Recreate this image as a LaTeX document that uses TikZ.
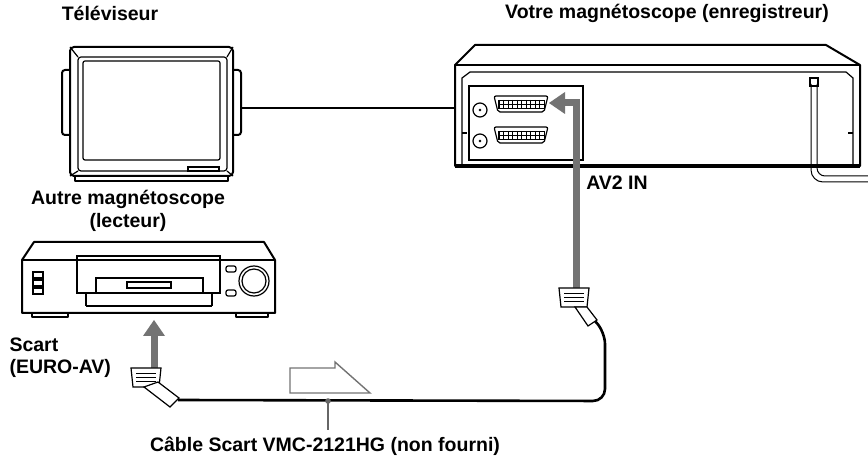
\documentclass[tikz,border=0pt]{standalone}
\usepackage{fontspec}
\setmainfont{Liberation Sans}
\begin{document}
\begin{tikzpicture}[x=1pt,y=-1pt,
  lbl/.style={font=\bfseries\fontsize{19.5}{22}\selectfont},
  dev/.style={draw=black,line width=2pt,fill=white,line join=round},
  thin/.style={draw=black,line width=1.2pt},
  garrow/.style={draw=black!55,line width=7pt},
  cable/.style={draw=black,line width=2.6pt}]
\useasboundingbox (0,0) rectangle (868,462);
% labels
\node[lbl] (ltv) at (110,13) {Téléviseur};
\node[lbl] (lrec) at (667,13) {Votre magnétoscope (enregistreur)};
\node[lbl] (lother) at (128,199) {Autre magnétoscope};
\node[lbl] (llect) at (128,222) {(lecteur)};
\node[lbl,anchor=west] (lscart) at (6,345) {Scart};
\node[lbl,anchor=west] (leuro) at (6,368) {(EURO-AV)};
\node[lbl] (lav) at (617,183) {AV2 IN};
\node[lbl] (lcable) at (325,446) {Câble Scart VMC-2121HG (non fourni)};
% TV
\draw[dev,rounded corners=3pt] (62,70) rectangle (72,135);
\draw[dev,rounded corners=3pt] (231,70) rectangle (241,135);
\draw[dev] (75,172) rectangle (228,181);
\draw[dev,rounded corners=4pt] (70,47) rectangle (233,176);
\draw[thin,rounded corners=3pt] (78,57) rectangle (227,171);
\draw[thin,rounded corners=2pt] (83,61) rectangle (220,160);
\draw[thin] (70,47)--(78,57) (233,47)--(227,57) (70,176)--(78,171) (233,176)--(227,171);
\draw[thin] (188,167) rectangle (219,171);
\coordinate (tvr) at (241,108);
% recorder
\draw[dev] (455,65)--(475,45)--(826,45)--(860,65)--(860,166)--(455,166)--cycle;
\draw[thin] (455,65)--(860,65);
\draw[thin] (462,166)--(462,78)--(470,72)--(846,72)--(853,78)--(853,166);
\draw[black,line width=3.5pt] (455,166)--(860,166);
\draw[thin] (469,160) rectangle (583,86);
\draw[thin] (462,133)--(467,133) (848,133)--(853,133);
\coordinate (recl) at (456,108);
\foreach \yy in {104,135}{
  \draw[thin,rounded corners=2pt] (494,\yy-8)--(548,\yy-8)--(544,\yy+8)--(498,\yy+8)--cycle;
  \draw[line width=0.5pt] (498,\yy-4) rectangle (544,\yy+4) (498,\yy)--(544,\yy);
  \foreach \k in {0,...,9}{\draw[line width=0.4pt] (499+4.5*\k,\yy-4)--(499+4.5*\k,\yy+4);}
  \draw[thin] (480,\yy+6) circle (7);
  \draw[fill=black] (480,\yy+6) circle (1.2);
}
% power cord
\draw[thin] (810,78) rectangle (818,86);
\draw[black,line width=1pt] (811,84)--(811,170) arc (180:90:12) -- (868,182);
\draw[black,line width=1pt] (817,84)--(817,168) arc (180:90:8) -- (868,176);
% tv cable
\draw[cable] (tvr)--(recl);
% other VCR
\draw[dev] (32,313) rectangle (68,317);
\draw[dev] (236,313) rectangle (268,317);
\draw[dev] (22,260)--(34,242)--(264,242)--(275,260)--(275,313)--(22,313)--cycle;
\draw[thin] (22,260)--(275,260);
\draw[thin] (77,260)--(77,256)--(220,256)--(220,260);
\draw[thin] (77,260)--(77,293)--(220,293)--(220,260);
\draw[thin] (86,306)--(86,293) (212,306)--(212,293) (86,306)--(212,306);
\draw[thin] (96,278) rectangle (203,293);
\draw[thin] (127,282) rectangle (171,288);
\foreach \yy in {275,283,291}{\draw[thin] (33,\yy-3) rectangle (43,\yy+3);}
\draw[thin,rounded corners=2pt] (226,266) rectangle (236,272) (226,290) rectangle (236,296);
\draw[thin] (254,281) circle (15) (254,281) circle (12);
% gray arrows
\draw[garrow] (576,290)--(576,103)--(561,103);
\fill[black!55] (549,103)--(565,92)--(565,114)--cycle;
\draw[garrow] (154,375)--(154,335);
\fill[black!55] (154,320)--(143,336)--(165,336)--cycle;
% cable
\coordinate (cr) at (594,320);
\coordinate (cl) at (178,400);
\draw[cable,rounded corners=12pt] (cr)--(605,332)--(605,401)--(cl);
% connectors
\begin{scope}[shift={(575,302)}]
\draw[thin,fill=white] (-16,-14)--(14,-14)--(12,5)--(-14,5)--cycle;
\draw[line width=0.8pt] (-11,-9)--(9,-9) (-11,-5)--(9,-5) (-11,-1)--(9,-1);
\draw[thin,fill=white] (0,5)--(12,5)--(22,18)--(13,24)--cycle;
\end{scope}
\begin{scope}[shift={(147,382)}]
\draw[thin,fill=white] (-16,-14)--(14,-14)--(12,5)--(-14,5)--cycle;
\draw[line width=0.8pt] (-11,-9)--(9,-9) (-11,-5)--(9,-5) (-11,-1)--(9,-1);
\draw[thin,fill=white] (-3,5)--(11,0)--(32,16)--(23,25)--cycle;
\end{scope}
% outline arrow
\draw[black!55,line width=1.4pt] (290,368)--(335,368)--(335,362)--(370,393)--(290,393)--cycle;
\fill[black!60] (328,401) circle (2.8);
\draw[black!60,line width=1.3pt] (328,401)--(328,430);
\end{tikzpicture}
\end{document}
